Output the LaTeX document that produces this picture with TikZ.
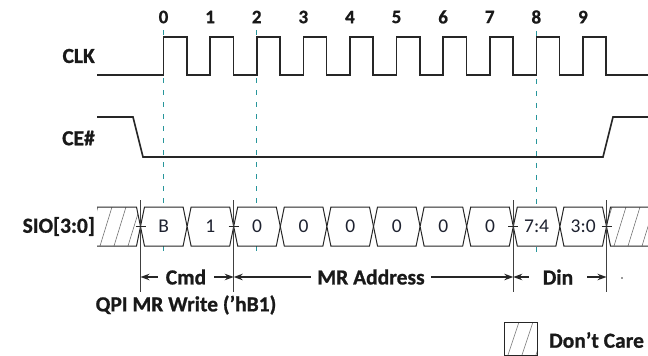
\documentclass[tikz,border=0pt]{standalone}
\usepackage{fontspec}
\setmainfont{Carlito}[BoldFeatures={FakeBold=0.9}]
\usepackage{tikz}
\usetikzlibrary{positioning, arrows.meta}
\definecolor{guidec}{RGB}{40,150,155}
\definecolor{valc}{RGB}{30,34,48}

\begin{document}
\begin{tikzpicture}[x=1pt, y=-1pt,
        wave/.style={line width=1.6pt, draw=black!85},
        lbl/.style={font=\fontsize{21.5}{24}\selectfont\bfseries, text=black!90, inner sep=1pt},
        num/.style={font=\fontsize{19}{22}\selectfont\bfseries, text=black!90, inner sep=1pt},
        guide/.style={draw=guidec, dash pattern=on 5pt off 7pt, line width=1.1pt},
        bus/.style={draw=black!85, line width=1pt, fill=white},
        busval/.style={font=\fontsize{19.5}{22}\selectfont, text=valc},
        hatch/.style={draw=black!55, line width=0.6pt},
        markline/.style={draw=black!75, line width=0.7pt},
        tickline/.style={draw=black!85, line width=1pt},
        dim/.style={lbl, inner ysep=1pt},
        dimarrow/.style={-{Stealth[length=9pt,width=6.5pt]}, line width=1.2pt, draw=black!85}]
            \useasboundingbox (0,0) rectangle (648,356);

            \node[lbl, anchor=east] (clk) at (96,56) {CLK};
            \node[lbl, anchor=east] (ce) at (96,138) {CE\#};
            \node[lbl, anchor=east] (sio) at (96,226.5) {SIO[3:0]};

            \foreach \i in {0,...,9}
                \node[num] (n\i) at ({163.5+46.6*\i},17) {\i};
            \foreach \i in {0,2,8}
                \draw[guide] ([yshift=-6pt]n\i.south) -- (n\i.south |- 0,258);

            \draw[wave] (97,75) foreach \i in {0,...,9} { -- ({163.5+46.6*\i},75) -- ++(0,-38) -- ++(23.3,0) -- ++(0,38) } -- (648,75);
            \draw[wave] (97,117) -- (133,117) -- (143,157) -- (603,157) -- (613,117) -- (648,117);

            % don't care ends
            \begin{scope}
                \clip (97,207) -- (136.5,207) -- (140.5,226.5) -- (136.5,246) -- (97,246) -- cycle;
                \foreach \x in {86,100,...,150} \draw[hatch] (\x,246) -- ++(12,-39);
            \end{scope}
            \draw[bus, fill=none] (97,207) -- (136.5,207) -- (140.5,226.5) -- (136.5,246) -- (97,246);
            \begin{scope}
                \clip (648,207) -- (610.5,207) -- (606.5,226.5) -- (610.5,246) -- (648,246) -- cycle;
                \foreach \x in {600,614,...,660} \draw[hatch] (\x,246) -- ++(12,-39);
            \end{scope}
            \draw[bus, fill=none] (648,207) -- (610.5,207) -- (606.5,226.5) -- (610.5,246) -- (648,246);

            \foreach \k/\v in {0/B,1/1,2/0,3/0,4/0,5/0,6/0,7/0,8/7:4,9/3:0} {
                \pgfmathsetmacro\xa{140.5+46.6*\k}
                \pgfmathsetmacro\xb{\xa+46.6}
                \draw[bus] (\xa,226.5) -- (\xa+4,207) -- (\xb-4,207) -- (\xb,226.5) -- (\xb-4,246) -- (\xa+4,246) -- cycle;
                \node[busval] (v\k) at (\xa+23.3,226.5) {\v};
            }

            \foreach \k in {0,2,8,10} {
                \pgfmathsetmacro\xa{140.5+46.6*\k}
                \draw[markline] (\xa,200) -- (\xa,292);
                \draw[tickline] (\xa-5,226.5) -- (\xa+5,226.5);
                \coordinate (m\k) at (\xa,277);
            }

            \node[dim, inner xsep=8pt] (cmd) at (186,277) {Cmd};
            \node[dim, inner xsep=6pt] (mra) at (371,277) {MR Address};
            \node[dim, inner xsep=14pt] (din) at (558,277) {Din};
            \draw[dimarrow] (cmd.west) -- (m0);
            \draw[dimarrow] (cmd.east) -- (m2);
            \draw[dimarrow] (mra.west) -- (m2);
            \draw[dimarrow] (mra.east) -- (m8);
            \draw[dimarrow] (din.west) -- (m8);
            \draw[dimarrow] (din.east) -- (m10);
            \fill[black!80] (622,278) circle (0.8);

            \node[lbl] (qpi) at (186,305) {QPI MR Write (’hB1)};

            \begin{scope}
                \clip (504,322) rectangle (537,355);
                \foreach \x in {494,508,...,540} \draw[hatch] (\x,355) -- ++(11,-33);
            \end{scope}
            \draw[bus, fill=none] (504,322) rectangle (537,355);
            \node[lbl, anchor=west] (dc) at (548,340) {Don’t Care};
        \end{tikzpicture}
\end{document}
